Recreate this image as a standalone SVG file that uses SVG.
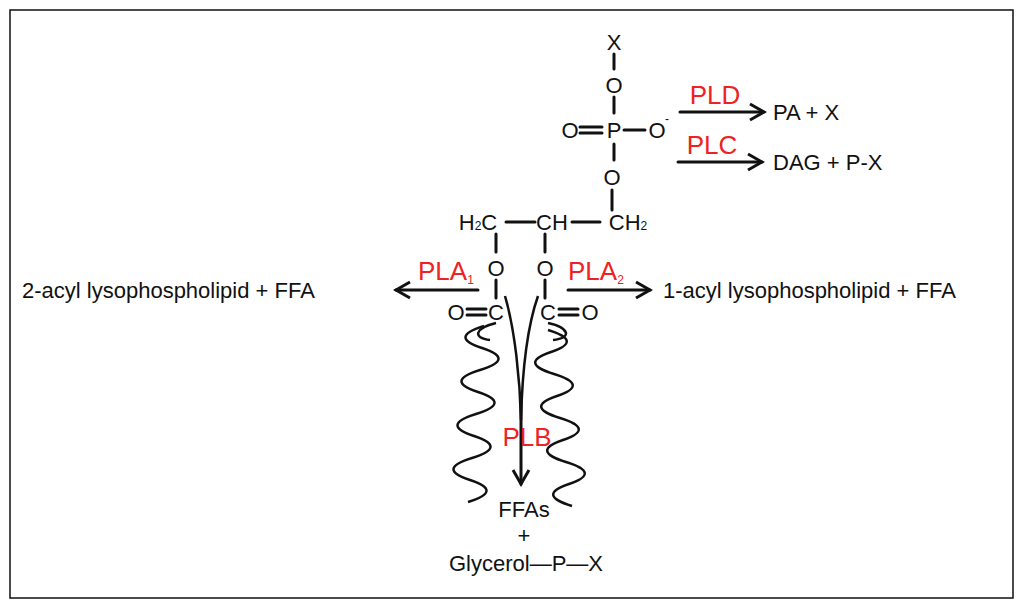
<svg xmlns="http://www.w3.org/2000/svg" width="1024" height="616" viewBox="0 0 1024 616">
<defs>
<style>
.t{font-family:"Liberation Sans",Arial,sans-serif;font-size:22px;fill:#111}
.a{font-family:"Liberation Sans",Arial,sans-serif;font-size:26px;fill:#ee2222}
.s{font-size:12px}
.b{stroke:#111;stroke-width:3;fill:none;stroke-linecap:round}
.w{stroke:#111;stroke-width:2.5;fill:none}
</style>
<marker id="ar" viewBox="0 0 20 20" refX="17" refY="10" markerWidth="20" markerHeight="20" markerUnits="userSpaceOnUse" orient="auto">
<path d="M3 2 L17 10 L3 18" fill="none" stroke="#111" stroke-width="3"/>
</marker>
</defs>
<rect x="0" y="0" width="1024" height="616" fill="#fff"/>
<rect x="10" y="10" width="1003" height="588" fill="none" stroke="#111" stroke-width="1.5"/>
<g id="molecule">
<text class="t" x="614" y="50" text-anchor="middle">X</text>
<text class="t" x="614" y="93" text-anchor="middle">O</text>
<text class="t" x="614" y="138" text-anchor="middle">P</text>
<text class="t" x="570" y="138" text-anchor="middle">O</text>
<text class="t" x="657" y="138" text-anchor="middle">O</text>
<text class="t s" x="665" y="123">-</text>
<text class="t" x="612" y="185" text-anchor="middle">O</text>
<text class="t" x="478" y="230" text-anchor="middle">H<tspan class="s">2</tspan>C</text>
<text class="t" x="552" y="230" text-anchor="middle">CH</text>
<text class="t" x="628" y="230" text-anchor="middle">CH<tspan class="s">2</tspan></text>
<text class="t" x="496" y="276" text-anchor="middle">O</text>
<text class="t" x="545" y="276" text-anchor="middle">O</text>
<text class="t" x="496" y="320" text-anchor="middle">C</text>
<text class="t" x="456" y="320" text-anchor="middle">O</text>
<text class="t" x="548" y="320" text-anchor="middle">C</text>
<text class="t" x="590" y="320" text-anchor="middle">O</text>
<path class="b" d="M614 54V69 M614 97V113 M614 144V160 M612 190V210 M506 222H535 M572 222H600 M496 234V252 M545 234V252 M496 280V298 M545 280V298 M624 130H645"/>
<path class="b" d="M580 127H602 M580 133H602 M467 309H486 M467 315H486 M559 309H578 M559 315H578"/>
<path class="w" d="M496 323 C475 328 472 338 490 340 M548 323 C570 328 572 338 553 340"/>
<path class="w" d="M484 326 q-36 11 -2 22 t-2 22 t-2 22 t-2 22 t-2 22 t-2 22 t-2 22 t-2 22"/>
<path class="w" d="M548 330 q36 11 3 22 t3 22 t3 22 t3 22 t3 22 t3 22 t3 22 t3 22"/>
</g>
<g id="connectors">
<path class="b" d="M680 112H764" marker-end="url(#ar)"/>
<path class="b" d="M678 162H762" marker-end="url(#ar)"/>
<path class="b" d="M478 290H396" marker-end="url(#ar)"/>
<path class="b" d="M568 290H650" marker-end="url(#ar)"/>
<path class="w" d="M505 296 C515 330 520 380 521 420 M538 296 C526 330 522 380 521 420"/>
<path class="b" d="M521 400V484" marker-end="url(#ar)"/>
</g>
<g id="labels">
<text class="a" x="715" y="104" text-anchor="middle">PLD</text>
<text class="a" x="712" y="154" text-anchor="middle">PLC</text>
<text class="a" x="418" y="280">PLA<tspan class="s" dy="4">1</tspan></text>
<text class="a" x="568" y="280">PLA<tspan class="s" dy="4">2</tspan></text>
<text class="a" x="527" y="446" text-anchor="middle">PLB</text>
<text class="t" x="773" y="120">PA + X</text>
<text class="t" x="773" y="170">DAG + P-X</text>
<text class="t" x="22" y="298">2-acyl lysophospholipid + FFA</text>
<text class="t" x="663" y="298">1-acyl lysophospholipid + FFA</text>
<text class="t" x="524" y="517" text-anchor="middle">FFAs</text>
<text class="t" x="524" y="543" text-anchor="middle">+</text>
<text class="t" x="526" y="571" text-anchor="middle">Glycerol—P—X</text>
</g>
</svg>
